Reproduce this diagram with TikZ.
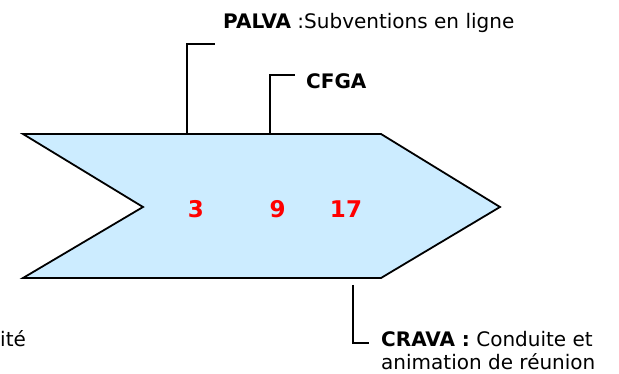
\documentclass[tikz,border=0pt]{standalone}
\usepackage{fontspec}
\setmainfont{DejaVu Sans}
\definecolor{arrowfill}{HTML}{CCECFF}
\definecolor{numred}{HTML}{FF0000}
\begin{document}
\begin{tikzpicture}[x=1pt,y=-1pt,
  outline/.style={draw=black,line width=1.8pt,line join=miter,fill=arrowfill},
  leader/.style={draw=black,line width=1.8pt},
  lbl/.style={anchor=base west,inner sep=0pt,font=\fontsize{20}{23}\selectfont},
  num/.style={anchor=base,inner sep=0pt,text=numred,font=\fontsize{23}{26}\selectfont\bfseries}]
\useasboundingbox (0,0) rectangle (619,374);
% chevron
\coordinate (tl) at (23,134);
\coordinate (tr) at (381,134);
\coordinate (tip) at (500,207);
\coordinate (br) at (381,278);
\coordinate (bl) at (23,278);
\coordinate (notch) at (143,207);
\path[outline] (tl) -- (tr) -- (tip) -- (br) -- (bl) -- (notch) -- cycle;
% numbers
\node[num] (n3) at (196,218) {3};
\node[num] (n9) at (277.5,218) {9};
\node[num] (n17) at (346,218) {17};
% labels
\node[lbl] (palva) at (223,29) {\textbf{PALVA} :Subventions en ligne};
\node[lbl] (cfga) at (306,89) {\textbf{CFGA}};
\node[lbl] (crava) at (381,347) {\textbf{CRAVA :} Conduite et};
\node[lbl] (crava2) at (381,370) {animation de réunion};
\node[lbl] (ite) at (0,346) {ité};
% leader lines
\coordinate (p1) at (187,134);
\coordinate (p1a) at (187,44);
\coordinate (p1b) at (215,44);
\coordinate (p2) at (270,134);
\coordinate (p2a) at (270,75);
\coordinate (p2b) at (295,75);
\coordinate (p3) at (353,285);
\coordinate (p3a) at (353,343);
\coordinate (p3b) at (369,343);
\draw[leader] (p1) -- (p1a) -- (p1b);
\draw[leader] (p2) -- (p2a) -- (p2b);
\draw[leader] (p3) -- (p3a) -- (p3b);
\end{tikzpicture}
\end{document}
